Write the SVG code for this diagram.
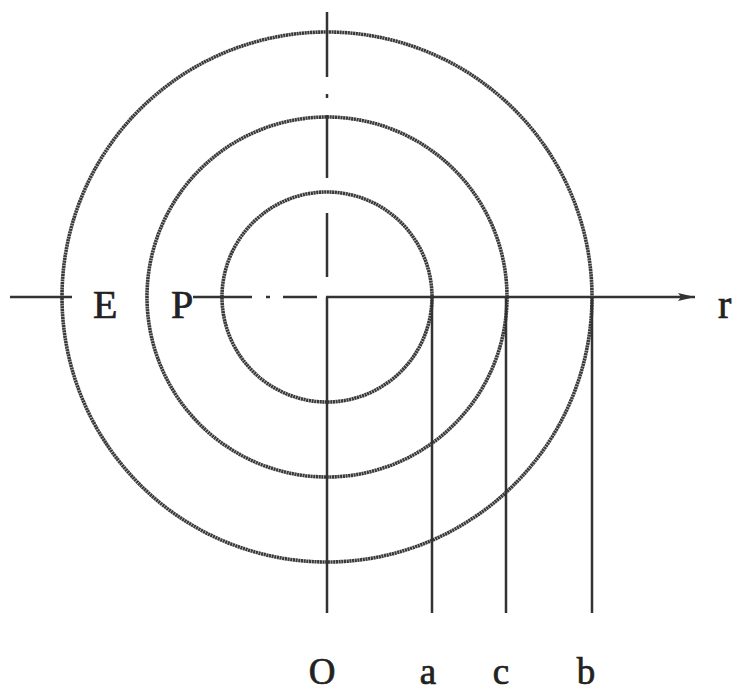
<svg xmlns="http://www.w3.org/2000/svg" width="734" height="693" viewBox="0 0 734 693">
<style>
.circ{fill:none;stroke:#3a3a3a;stroke-width:3.6;stroke-dasharray:2.2 0.5}
.ln{fill:none;stroke:#333333;stroke-width:2.5}
.lbl{font-family:"Liberation Serif","DejaVu Serif",serif;font-size:40px;fill:#222222;stroke:#222222;stroke-width:0.7}
.lbs{font-family:"Liberation Serif","DejaVu Serif",serif;font-size:37px;fill:#222222;stroke:#222222;stroke-width:0.7}
</style>
<defs>
<marker id="arr" markerWidth="18" markerHeight="10" refX="17" refY="5" orient="auto" markerUnits="userSpaceOnUse">
<path d="M0,1 L17,5 L0,9 L3,5 Z" fill="#333333"/>
</marker>
</defs>
<rect width="734" height="693" fill="#ffffff"/>
<g id="circles">
<circle id="outer" class="circ" cx="327" cy="297" r="265"/>
<circle id="middle" class="circ" cx="327" cy="297" r="180"/>
<circle id="inner" class="circ" cx="327" cy="297" r="105"/>
</g>
<g id="connectors">
<line class="ln" x1="327" y1="12" x2="327" y2="77"/>
<line class="ln" x1="327" y1="94" x2="327" y2="98"/>
<line class="ln" x1="327" y1="115" x2="327" y2="178"/>
<line class="ln" x1="327" y1="213" x2="327" y2="277"/>
<line class="ln" x1="10" y1="297" x2="72" y2="297"/>
<line class="ln" x1="193" y1="297" x2="252" y2="297"/>
<line class="ln" x1="266" y1="297" x2="270" y2="297"/>
<line class="ln" x1="283" y1="297" x2="317" y2="297"/>
<line class="ln" x1="326" y1="297" x2="695" y2="297" marker-end="url(#arr)"/>
<line class="ln" x1="327" y1="297" x2="327" y2="613"/>
<line class="ln" x1="432" y1="297" x2="432" y2="613"/>
<line class="ln" x1="506" y1="297" x2="506" y2="613"/>
<line class="ln" x1="592" y1="297" x2="592" y2="613"/>
</g>
<g id="labels">
<text class="lbl" x="93" y="318">E</text>
<text class="lbl" x="171" y="318">P</text>
<text class="lbl" x="718" y="318">r</text>
<text class="lbs" x="322" y="684" text-anchor="middle">O</text>
<text class="lbs" x="428" y="684" text-anchor="middle">a</text>
<text class="lbs" x="501" y="684" text-anchor="middle">c</text>
<text class="lbs" x="586" y="684" text-anchor="middle">b</text>
</g>
</svg>
